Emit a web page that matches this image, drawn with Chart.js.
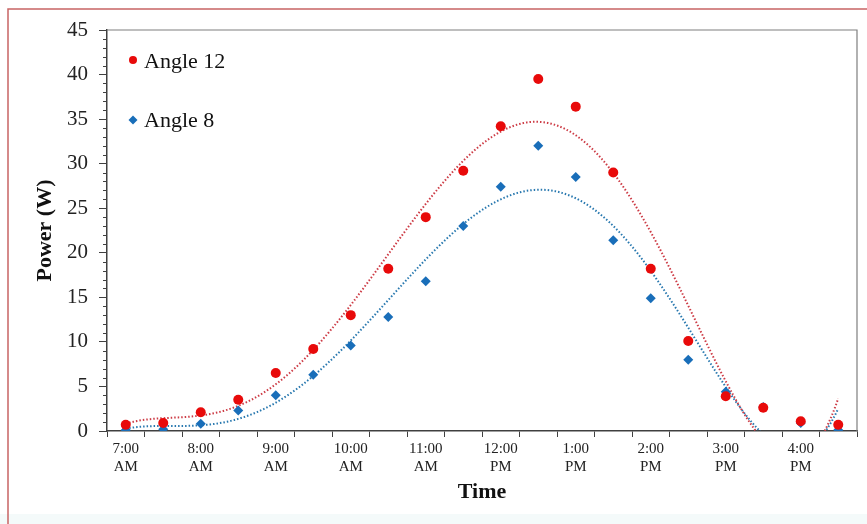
<!DOCTYPE html>
<html>
<head>
<meta charset="utf-8">
<script src="https://cdn.jsdelivr.net/npm/chart.js@4.4.1/dist/chart.umd.min.js"></script>
<style>
html,body{margin:0;padding:0;background:#fff;}
#wrap{width:867px;height:524px;position:relative;}
</style>
</head>
<body>
<div id="wrap"><canvas id="c" width="867" height="524"></canvas></div>
<script>
// ---- data ----
const timeLabels = [
  ['7:00','AM'], ['8:00','AM'], ['9:00','AM'], ['10:00','AM'], ['11:00','AM'],
  ['12:00','PM'], ['1:00','PM'], ['2:00','PM'], ['3:00','PM'], ['4:00','PM']
];
const categories = ['7:00','7:30','8:00','8:30','9:00','9:30','10:00','10:30','11:00','11:30',
  '12:00','12:30','13:00','13:30','14:00','14:30','15:00','15:30','16:00','16:30'];
const angle12 = [0.7, 0.9, 2.1, 3.5, 6.5, 9.2, 13.0, 18.2, 24.0, 29.2,
                 34.2, 39.5, 36.4, 29.0, 18.2, 10.1, 3.9, 2.6, 1.1, 0.7];
const angle8  = [0.1, 0.2, 0.8, 2.3, 4.0, 6.3, 9.6, 12.8, 16.8, 23.0,
                 27.4, 32.0, 28.5, 21.4, 14.9, 8.0, 4.4, 2.7, 0.9, 0.1];
const yTicks = [0, 5, 10, 15, 20, 25, 30, 35, 40, 45];
const seriesNames = ['Angle 12', 'Angle 8'];
const trendOrder = 5;

// ---- polynomial least-squares trendline (like Excel) ----
function polyFit(ys, order) {
  const n = ys.length;
  const c = (n + 1) / 2, s = (n - 1) / 2;
  const m = order + 1;
  const A = [], b = [];
  for (let i = 0; i < m; i++) { A.push(new Array(m).fill(0)); b.push(0); }
  for (let k = 0; k < n; k++) {
    const t = ((k + 1) - c) / s;
    const p = [];
    for (let i = 0; i < m; i++) p.push(Math.pow(t, i));
    for (let i = 0; i < m; i++) {
      b[i] += p[i] * ys[k];
      for (let j = 0; j < m; j++) A[i][j] += p[i] * p[j];
    }
  }
  for (let i = 0; i < m; i++) {
    let piv = i;
    for (let r = i + 1; r < m; r++) if (Math.abs(A[r][i]) > Math.abs(A[piv][i])) piv = r;
    [A[i], A[piv]] = [A[piv], A[i]]; [b[i], b[piv]] = [b[piv], b[i]];
    for (let r = i + 1; r < m; r++) {
      const f = A[r][i] / A[i][i];
      for (let j = i; j < m; j++) A[r][j] -= f * A[i][j];
      b[r] -= f * b[i];
    }
  }
  const coef = new Array(m).fill(0);
  for (let i = m - 1; i >= 0; i--) {
    let v = b[i];
    for (let j = i + 1; j < m; j++) v -= A[i][j] * coef[j];
    coef[i] = v / A[i][i];
  }
  return function (idx) {
    const t = ((idx + 1) - c) / s;
    let v = 0;
    for (let i = m - 1; i >= 0; i--) v = v * t + coef[i];
    return v;
  };
}
function trendPoints(ys) {
  const f = polyFit(ys, trendOrder);
  const pts = [];
  const steps = 380;
  for (let i = 0; i <= steps; i++) {
    const x = (ys.length - 1) * i / steps;
    pts.push({ x: x, y: f(x) });
  }
  return pts;
}
const toXY = arr => arr.map((v, i) => ({ x: i, y: v }));

const RED = 'rgb(232,10,10)';
const BLUE = 'rgb(25,110,185)';
const RED_T = 'rgb(205,60,70)';
const BLUE_T = 'rgb(40,120,175)';
const AXIS = '#404040';
const FONT = "'Liberation Serif', 'Times New Roman', serif";

const framePlugin = {
  id: 'frame',
  beforeDraw(chart) {
    const ctx = chart.ctx;
    ctx.save();
    ctx.fillStyle = '#fff';
    ctx.fillRect(0, 0, chart.width, chart.height);
    ctx.fillStyle = 'rgb(244,250,250)';
    ctx.fillRect(0, 514, chart.width, 10);
    ctx.strokeStyle = 'rgb(200,100,100)';
    ctx.lineWidth = 1.5;
    ctx.beginPath();
    ctx.moveTo(8, 524); ctx.lineTo(8, 9); ctx.lineTo(867, 9);
    ctx.stroke();
    ctx.restore();
  },
  afterDraw(chart) {
    const ctx = chart.ctx;
    const a = chart.chartArea;
    const ys = chart.scales.y;
    ctx.save();
    // plot box top/right
    ctx.strokeStyle = '#7f7f7f';
    ctx.lineWidth = 1.2;
    ctx.beginPath();
    ctx.moveTo(a.left, a.top); ctx.lineTo(a.right, a.top); ctx.lineTo(a.right, a.bottom);
    ctx.stroke();
    // minor y ticks
    ctx.strokeStyle = AXIS;
    ctx.lineWidth = 1;
    ctx.beginPath();
    for (let v = ys.min; v <= ys.max; v += 1) {
      if (v % 5 === 0) continue;
      const py = Math.round(ys.getPixelForValue(v)) + 0.5;
      ctx.moveTo(a.left - 4, py); ctx.lineTo(a.left, py);
    }
    ctx.stroke();
    // legend inside plot
    const items = [
      { text: seriesNames[0], color: RED, style: 'circle', y: a.top + 31 },
      { text: seriesNames[1], color: BLUE, style: 'diamond', y: a.top + 90 }
    ];
    ctx.font = '22px ' + FONT;
    ctx.textBaseline = 'middle';
    ctx.textAlign = 'left';
    items.forEach(it => {
      const cx = a.left + 26;
      ctx.fillStyle = it.color;
      ctx.beginPath();
      if (it.style === 'circle') {
        ctx.arc(cx, it.y - 1, 4, 0, Math.PI * 2);
      } else {
        ctx.moveTo(cx, it.y - 4.5); ctx.lineTo(cx + 4.5, it.y); ctx.lineTo(cx, it.y + 4.5); ctx.lineTo(cx - 4.5, it.y);
        ctx.closePath();
      }
      ctx.fill();
      ctx.fillStyle = '#111';
      ctx.fillText(it.text, a.left + 37, it.y + 1);
    });
    ctx.restore();
  }
};

new Chart(document.getElementById('c'), {
  type: 'scatter',
  data: {
    datasets: [
      { label: seriesNames[0], data: toXY(angle12), order: 0,
        pointStyle: 'circle', pointRadius: 5, pointHoverRadius: 5,
        backgroundColor: RED, borderColor: RED, borderWidth: 0 },
      { label: seriesNames[1], data: toXY(angle8), order: 0,
        pointStyle: 'rectRot', pointRadius: 5, pointHoverRadius: 5,
        backgroundColor: BLUE, borderColor: BLUE, borderWidth: 0 },
      { label: 'trend12', data: trendPoints(angle12), order: 1, showLine: true,
        pointRadius: 0, borderColor: RED_T, borderWidth: 2, borderDash: [1.5, 2],
        tension: 0, fill: false },
      { label: 'trend8', data: trendPoints(angle8), order: 1, showLine: true,
        pointRadius: 0, borderColor: BLUE_T, borderWidth: 2, borderDash: [1.5, 2],
        tension: 0, fill: false }
    ]
  },
  options: {
    responsive: false,
    animation: false,
    events: [],
    layout: { padding: { left: 0, top: 30, right: 10, bottom: 0 } },
    plugins: { legend: { display: false }, tooltip: { enabled: false } },
    scales: {
      x: {
        type: 'linear',
        min: -0.5, max: categories.length - 0.5,
        afterBuildTicks(scale) {
          const t = [];
          for (let v = -0.5; v <= categories.length - 0.5 + 1e-9; v += 0.5) t.push({ value: v });
          scale.ticks = t;
        },
        afterFit(scale) { scale.height = 93; },
        ticks: {
          autoSkip: false, maxRotation: 0, minRotation: 0, padding: 3,
          color: '#222', font: { family: FONT, size: 15, lineHeight: 1.2 },
          callback(v) {
            if (Number.isInteger(v) && v % 2 === 0) return timeLabels[v / 2];
            return '';
          }
        },
        grid: {
          drawOnChartArea: false, drawTicks: true, tickLength: 6,
          color(ctx) {
            const v = ctx.tick ? ctx.tick.value : 0;
            return Math.abs(v - Math.floor(v) - 0.5) < 1e-6 ? AXIS : 'rgba(0,0,0,0)';
          }
        },
        border: { display: true, color: AXIS, width: 1.5 },
        title: { display: true, text: 'Time', color: '#111',
          font: { family: FONT, size: 22, weight: 'bold' }, padding: { top: 0, bottom: 18 } }
      },
      y: {
        min: 0, max: 45,
        afterBuildTicks(scale) { scale.ticks = yTicks.map(v => ({ value: v })); },
        afterFit(scale) { scale.width = 107; },
        ticks: { color: '#222', font: { family: FONT, size: 21 }, padding: 11 },
        grid: { drawOnChartArea: false, drawTicks: true, tickLength: 8, color: AXIS },
        border: { display: true, color: AXIS, width: 1.5 },
        title: { display: true, text: 'Power (W)', color: '#111',
          font: { family: FONT, size: 22, weight: 'bold' }, padding: { top: 32, bottom: 0 } }
      }
    }
  },
  plugins: [framePlugin]
});
</script>
</body>
</html>
